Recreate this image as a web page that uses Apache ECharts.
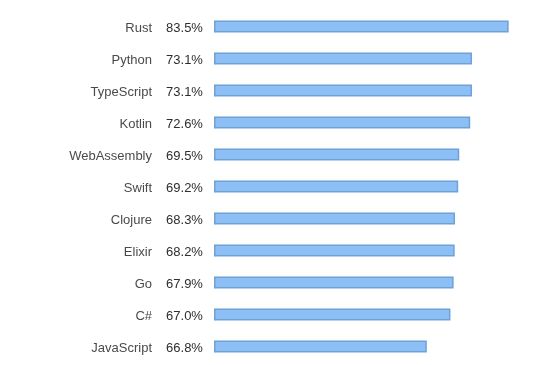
<!DOCTYPE html>
<html>
<head>
<meta charset="utf-8">
<script src="https://cdn.jsdelivr.net/npm/echarts@6/dist/echarts.min.js"></script>
<style>
html,body{margin:0;padding:0;background:#fff;}
#chart{width:552px;height:365px;}
</style>
</head>
<body>
<div id="chart"></div>
<script>
const languages = ["Rust","Python","TypeScript","Kotlin","WebAssembly","Swift","Clojure","Elixir","Go","C#","JavaScript"];
const percentLabels = ["83.5%","73.1%","73.1%","72.6%","69.5%","69.2%","68.3%","68.2%","67.9%","67.0%","66.8%"];
// bar lengths as drawn in the reference (JavaScript bar is drawn shorter than its label)
const barValues = [83.5, 73.1, 73.1, 72.6, 69.5, 69.2, 68.3, 68.2, 67.9, 67.0, 60.3];

const chart = echarts.init(document.getElementById('chart'), null, {renderer:'canvas'});
chart.setOption({
  animation: false,
  backgroundColor: '#ffffff',
  grid: {left: 214, right: 20.4, top: 10.5, bottom: 2.5, containLabel: false},
  xAxis: {type: 'value', min: 0, max: 90, show: false},
  yAxis: {
    type: 'category',
    data: languages,
    inverse: true,
    axisLine: {show: false},
    axisTick: {show: false},
    splitLine: {show: false},
    axisLabel: {
      margin: 11,
      align: 'right',
      padding: [3, 0, 0, 0],
      fontFamily: 'Liberation Sans, Arial, sans-serif',
      fontSize: 13,
      formatter: function (v, i) {
        return '{n|' + v + '}{p|' + percentLabels[i] + '}';
      },
      rich: {
        n: {color: '#4a4a4a', fontSize: 13, fontFamily: 'Liberation Sans, Arial, sans-serif', padding: [0, 14, 0, 0]},
        p: {color: '#2e2e2e', fontSize: 13, fontFamily: 'Liberation Sans, Arial, sans-serif', width: 37, align: 'left'}
      }
    }
  },
  series: [{
    type: 'bar',
    data: barValues,
    barWidth: 12,
    itemStyle: {color: '#8cbff6', borderColor: '#6ea1d5', borderWidth: 1.5}
  }]
});
</script>
</body>
</html>
